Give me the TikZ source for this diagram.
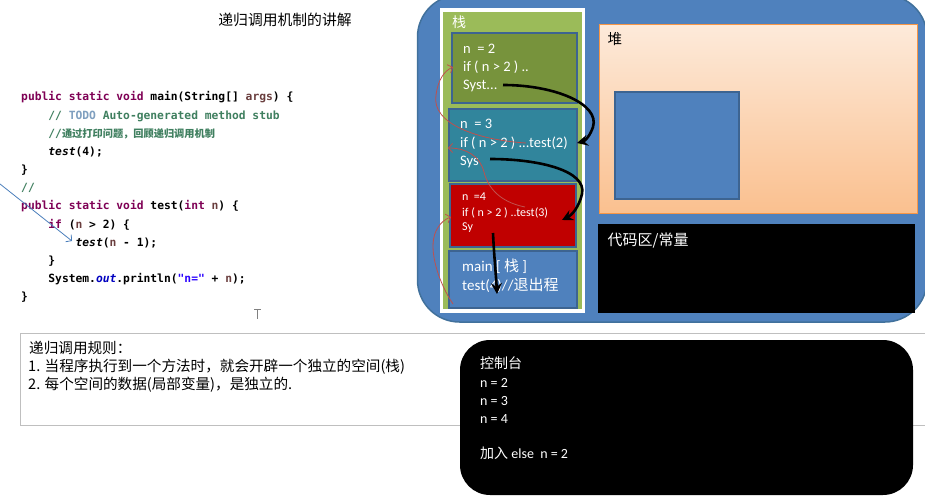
\documentclass[tikz,border=0pt]{standalone}
\usepackage{fontspec}
\setmainfont{Carlito}
\newfontfamily\cjk{Noto Sans CJK SC}
\newfontfamily\codef{DejaVu Sans Mono}
\usetikzlibrary{arrows.meta}
\definecolor{bigblue}{HTML}{4F81BD}
\definecolor{bigblueb}{HTML}{41719C}
\definecolor{framebd}{HTML}{3D6491}
\definecolor{stackgreen}{HTML}{9BBB59}
\definecolor{olivef}{HTML}{77933C}
\definecolor{tealf}{HTML}{31859C}
\definecolor{redf}{HTML}{C00000}
\definecolor{heaptop}{HTML}{FDEADA}
\definecolor{heapbot}{HTML}{FAC08F}
\definecolor{heapbd}{HTML}{F79646}
\definecolor{kwc}{HTML}{7F0055}
\definecolor{cmc}{HTML}{3F7F5F}
\definecolor{todoc}{HTML}{7F9FBF}
\definecolor{strc}{HTML}{2A00FF}
\definecolor{fieldc}{HTML}{0000C0}
\definecolor{varc}{HTML}{6A3E3E}
\definecolor{redline}{HTML}{C0504D}
\definecolor{bluearrow}{HTML}{4A7EBB}
\definecolor{rulegray}{HTML}{BFBFBF}
\newcommand\fsz[1]{\fontsize{#1}{#1}\selectfont}
\newcommand\jkw[1]{{\color{kwc}#1}}
\newcommand\jcm[1]{{\color{cmc}#1}}
\begin{document}
\begin{tikzpicture}[x=1pt,y=-1pt,
  codeline/.style={anchor=base west,inner sep=0pt,font=\codef\bfseries\fsz{11.3}},
  ftext/.style={anchor=base west,inner sep=0pt,text=white,font=\fsz{14.5}},
  frameboxstyle/.style={draw=framebd,line width=2.2pt,inner sep=0pt},
  blackarrow/.style={line width=2.6pt,-{Stealth[length=11pt,width=11pt,inset=4pt]}},
  redarrow/.style={draw=redline,line width=0.8pt,-{Straight Barb[length=4pt,width=9pt]}},
  contxt/.style={anchor=base west,inner sep=0pt,text=white,font=\fsz{14}},
  ruletxt/.style={anchor=base west,inner sep=0pt,font=\cjk\fsz{14.6}}]
\useasboundingbox (0,0) rectangle (925,497);
\clip (0,0) rectangle (925,497);
\fill[white] (0,0) rectangle (925,497);

% title
\node[anchor=base,inner sep=0pt,font=\cjk\fsz{14.8}] (title) at (285,26) {递归调用机制的讲解};

% code
\node[codeline] (c1) at (21,101) {\jkw{public} \jkw{static} \jkw{void} main(String[] {\color{varc}args}) \{};
\node[codeline] (c2) at (48.2,119.2) {\jcm{//} {\color{todoc}TODO} \jcm{Auto-generated method stub}};
\node[codeline] (c3) at (48.2,137.3) {\jcm{//{\cjk\bfseries\fsz{10.2}通过打印问题，回顾递归调用机制}}};
\node[codeline] (c4) at (48.2,155.5) {{\itshape test}(4);};
\node[codeline] (c5) at (21,173.6) {\}};
\node[codeline] (c6) at (21,191.8) {\jcm{//}};
\node[codeline] (c7) at (21,209.9) {\jkw{public} \jkw{static} \jkw{void} test(\jkw{int} {\color{varc}n}) \{};
\node[codeline] (c8) at (48.2,228) {\jkw{if} ({\color{varc}n} > 2) \{};
\node[codeline] (c9) at (75.4,246.2) {{\itshape test}({\color{varc}n} - 1);};
\node[codeline] (c10) at (48.2,264.3) {\}};
\node[codeline] (c11) at (48.2,282.5) {System.{\color{fieldc}\itshape out}.println({\color{strc}"n="} + {\color{varc}n});};
\node[codeline] (c12) at (21,300.6) {\}};

% blue arrow
\coordinate (bstart) at (0,184);
\coordinate (bend) at (72,241);
\draw[bluearrow,line width=0.8pt,-{Straight Barb[length=4pt,width=9pt]}] (bstart) -- (bend);

% text cursor
\draw[gray,line width=1pt] (254,309) -- (261,309) (257.5,309) -- (257.5,319);

% big blue memory shape
\draw[fill=bigblue,draw=bigblueb,line width=1.5pt,rounded corners=42pt] (417.5,-5) rectangle (927,322);

% stack panel
\fill[white] (440,8) rectangle (585,313);
\fill[stackgreen] (443,12) rectangle (582,309);
\node[anchor=base west,inner sep=0pt,text=white,font=\cjk\fsz{14}] (stacklbl) at (452,28) {栈};

% frames
\node[frameboxstyle,fill=olivef,minimum width=125pt,minimum height=70pt] (f1) at (514.5,68) {};
\node[frameboxstyle,fill=tealf,minimum width=128pt,minimum height=72pt] (f2) at (513,145) {};
\node[frameboxstyle,fill=redf,minimum width=126pt,minimum height=63pt] (f3) at (513,215.5) {};
\node[frameboxstyle,fill=bigblue,minimum width=128pt,minimum height=57pt] (f4) at (513,279.5) {};

\node[ftext] (f1a) at (463,53.5) {n \ = 2};
\node[ftext] (f1b) at (463,71.5) {if ( n > 2 ) ..};
\node[ftext] (f1c) at (463,89.5) {Syst...};
\node[ftext] (f2a) at (460,129) {n \ = 3};
\node[ftext] (f2b) at (460,148) {if ( n > 2 ) ...test(2)};
\node[ftext] (f2c) at (460,165.5) {Sys};
\node[ftext,font=\fsz{12}] (f3a) at (462,200) {n \ =4};
\node[ftext,font=\fsz{12}] (f3b) at (462,216) {if ( n > 2 ) ..test(3)};
\node[ftext,font=\fsz{12}] (f3c) at (462,230.5) {Sy};
\node[ftext,font=\fsz{15}] (f4a) at (462,271.5) {main [ {\cjk 栈} ]};
\node[ftext,font=\fsz{15}] (f4b) at (462,290) {test(4)//{\cjk 退出程}};

% heap
\draw[heapbd,line width=1pt,top color=heaptop,bottom color=heapbot] (599,25) rectangle (917,213);
\node[anchor=base west,inner sep=0pt,font=\cjk\fsz{14.5}] (heaplbl) at (607.5,44.5) {堆};
\node[draw=framebd,line width=1.8pt,fill=bigblue,inner sep=0pt,minimum width=124pt,minimum height=107pt] (obj) at (677,145.5) {};

% code area
\node[fill=black,inner sep=0pt,minimum width=317pt,minimum height=89pt] (codearea) at (756.5,268.5) {};
\node[anchor=base west,inner sep=0pt,text=white,font=\cjk\fsz{15}] (codelbl) at (607.5,245.5) {代码区/常量};

% black arrows
\coordinate (a1s) at (503,85);
\coordinate (a1e) at (577,143);
\coordinate (a2s) at (490,159);
\coordinate (a2e) at (562,220);
\coordinate (a3s) at (493,233);
\coordinate (a3e) at (497,294);
\draw[blackarrow] (a1s) .. controls (555,85) and (600,104) .. (593,127) .. controls (590,136) and (585,141) .. (a1e);
\draw[blackarrow] (a2s) .. controls (540,159) and (587,171) .. (582,194) .. controls (579,207) and (572,215) .. (a2e);
\draw[blackarrow] (a3s) .. controls (494,255) and (496,275) .. (a3e);

% red thin arrows
\coordinate (r1s) at (526,143);
\coordinate (r1e) at (453,67);
\coordinate (r2s) at (525,207);
\coordinate (r2e) at (448,148);
\coordinate (r3s) at (453,304);
\coordinate (r3e) at (451,217);
\draw[redarrow] (r1s) .. controls (478,140) and (431,124) .. (436,95) .. controls (438,80) and (444,71) .. (r1e);
\draw[redarrow] (r2s) .. controls (500,202) and (488,188) .. (484,172) .. controls (480,156) and (466,148) .. (r2e);
\draw[redarrow] (r3s) .. controls (440,285) and (427,250) .. (436,231) .. controls (440,223) and (445,219) .. (r3e);

% rules box
\draw[rulegray,line width=1pt] (20,333) rectangle (930,425);
\node[ruletxt] (rule0) at (29,353) {递归调用规则：};
\node[ruletxt] (rule1) at (28,371.5) {1. 当程序执行到一个方法时，就会开辟一个独立的空间(栈)};
\node[ruletxt] (rule2) at (28,389.5) {2. 每个空间的数据(局部变量)，是独立的.};

% console
\fill[black,rounded corners=30pt] (460,340) rectangle (913,495);
\node[contxt,font=\cjk\fsz{14}] (con0) at (480,368) {控制台};
\node[contxt] (con1) at (480,387) {n = 2};
\node[contxt] (con2) at (480,405) {n = 3};
\node[contxt] (con3) at (480,423) {n = 4};
\node[contxt] (con4) at (480,458.5) {{\cjk 加入} else \ n = 2};
\end{tikzpicture}
\end{document}
